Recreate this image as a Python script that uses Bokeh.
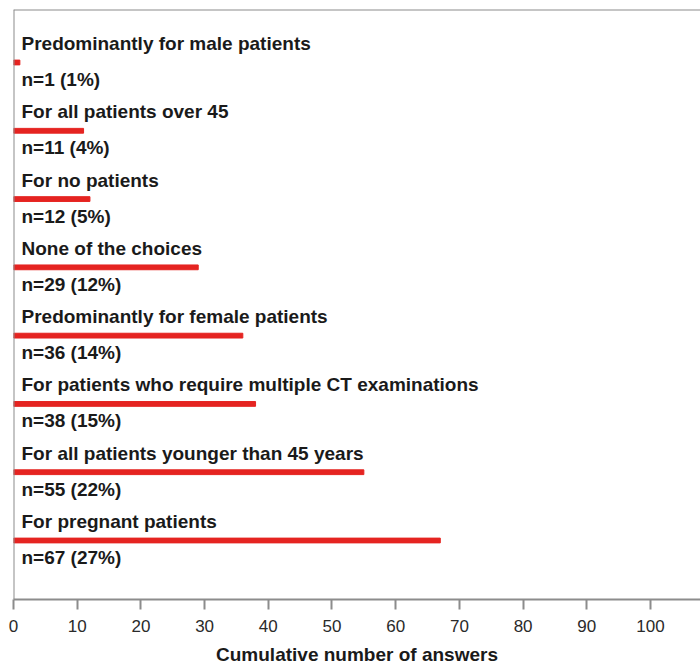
from bokeh.plotting import figure
from bokeh.models import ColumnDataSource, Range1d, Span, FixedTicker
from bokeh.core.properties import value
from bokeh.embed import file_html
from bokeh.resources import INLINE

# ---- data ----
categories = [
    "Predominantly for male patients",
    "For all patients over 45",
    "For no patients",
    "None of the choices",
    "Predominantly for female patients",
    "For patients who require multiple CT examinations",
    "For all patients younger than 45 years",
    "For pregnant patients",
]
counts = [1, 11, 12, 29, 36, 38, 55, 67]
percents = [1, 4, 5, 12, 14, 15, 22, 27]
x_ticks = [0, 10, 20, 30, 40, 50, 60, 70, 80, 90, 100]
x_title = "Cumulative number of answers"

positions = list(range(len(categories)))
n_labels = [f"n={c} ({pc}%)" for c, pc in zip(counts, percents)]

src = ColumnDataSource(dict(y=positions, count=counts, cat=categories, nlab=n_labels))

FONT = "Liberation Sans"
GREY = "#8c8c8c"
TOP = -0.776

p = figure(
    width=700, height=667,
    output_backend="svg", toolbar_location=None,
    x_range=Range1d(0, 107.85), y_range=Range1d(7.864, TOP),
    min_border_top=9, min_border_left=13, min_border_right=0, min_border_bottom=0,
)
p.outline_line_color = None
p.grid.visible = False
p.yaxis.visible = False
p.background_fill_color = "white"
p.border_fill_color = "white"

ax = p.xaxis[0]
ax.ticker = FixedTicker(ticks=x_ticks)
ax.minor_tick_line_color = None
ax.major_tick_in = 0
ax.major_tick_out = 10
ax.axis_line_color = GREY
ax.axis_line_width = 2
ax.major_tick_line_color = GREY
ax.major_tick_line_width = 2
ax.major_label_text_font = FONT
ax.major_label_text_font_size = "17px"
ax.major_label_text_color = "#2a2a2a"
ax.major_label_standoff = 10
ax.axis_label = x_title
ax.axis_label_text_font = FONT
ax.axis_label_text_font_style = "bold"
ax.axis_label_text_font_size = "19px"
ax.axis_label_text_color = "#1a1a1a"
ax.axis_label_standoff = 9

p.add_layout(Span(location=0, dimension="height", line_color=GREY, line_width=2))
p.add_layout(Span(location=TOP, dimension="width", line_color=GREY, line_width=2))

p.hbar(y="y", left=0, right="count", height=0.07, color="#e52421", source=src)

p.text(x=0, y="y", text="cat", x_offset=8, y_offset=-19, text_baseline="middle",
       text_font=value(FONT), text_font_style="bold", text_font_size="19px",
       text_color="#1a1a1a", source=src)
p.text(x=0, y="y", text="nlab", x_offset=8, y_offset=17, text_baseline="middle",
       text_font=value(FONT), text_font_style="bold", text_font_size="19px",
       text_color="#1a1a1a", source=src)

open("out.html", "w").write(file_html(p, INLINE))
